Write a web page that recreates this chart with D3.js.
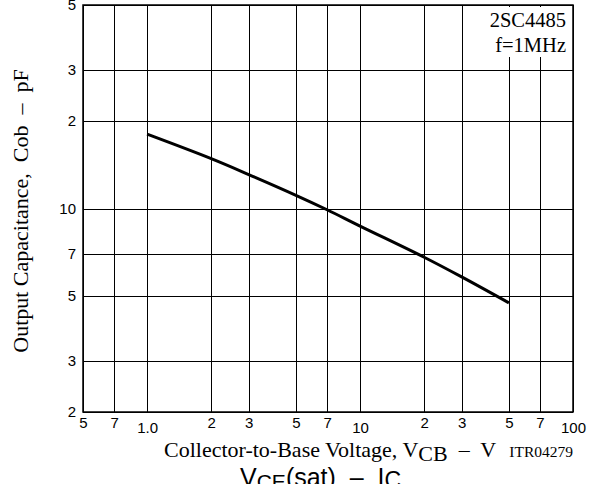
<!DOCTYPE html>
<html>
<head>
<meta charset="utf-8">
<script src="https://cdn.jsdelivr.net/npm/d3@7"></script>
<style>
  body { margin: 0; background: #fff; }
  svg { display: block; }
</style>
</head>
<body>
<svg id="chart"></svg>
<script>
// tick values and labels (log axes)
const xTicks = [0.5, 0.7, 1, 2, 3, 5, 7, 10, 20, 30, 50, 70, 100];
const xTickLabels = ["5", "7", "1.0", "2", "3", "5", "7", "10", "2", "3", "5", "7", "100"];
const yTicks = [2, 3, 5, 7, 10, 20, 30, 50];
const yTickLabels = ["2", "3", "5", "7", "10", "2", "3", "5"];

// curve: VCB (V) vs Cob (pF)
const vcb = [1, 2, 3, 5, 7, 10, 20, 30, 50];
const cob = [18.0, 14.83, 13.08, 11.1, 9.9, 8.7, 6.8, 5.82, 4.74];

const width = 589, height = 484;
const margin = {top: 5, right: 16, bottom: 72, left: 83};

const svg = d3.select("#chart")
    .attr("width", width)
    .attr("height", height)
    .attr("viewBox", [0, 0, width, height]);

const x = d3.scaleLog([0.5, 100], [margin.left, width - margin.right]);
const y = d3.scaleLog([2, 50], [height - margin.bottom, margin.top]);
const plotW = width - margin.right - margin.left;
const plotH = height - margin.bottom - margin.top;

// x axis + vertical grid
svg.append("g")
    .attr("transform", `translate(0,${height - margin.bottom})`)
    .call(d3.axisBottom(x)
        .tickValues(xTicks)
        .tickSize(-plotH)
        .tickPadding(5)
        .tickFormat((d, i) => xTickLabels[i]))
    .call(g => g.select(".domain").remove())
    .call(g => g.selectAll(".tick line")
        .attr("stroke", "#000")
        .attr("shape-rendering", "crispEdges"))
    .call(g => g.selectAll(".tick text")
        .attr("y", (d, i) => [1, 10, 100].includes(d) ? 10 : 5)
        .attr("fill", "#000")
        .attr("font-family", "'Liberation Sans', Arial, sans-serif")
        .attr("font-size", 15));

// y axis + horizontal grid
svg.append("g")
    .attr("transform", `translate(${margin.left},0)`)
    .call(d3.axisLeft(y)
        .tickValues(yTicks)
        .tickSize(-plotW)
        .tickPadding(7)
        .tickFormat((d, i) => yTickLabels[i]))
    .call(g => g.select(".domain").remove())
    .call(g => g.selectAll(".tick line")
        .attr("stroke", "#000")
        .attr("shape-rendering", "crispEdges"))
    .call(g => g.selectAll(".tick text")
        .attr("fill", "#000")
        .attr("font-family", "'Liberation Sans', Arial, sans-serif")
        .attr("font-size", 15));

// frame
svg.append("rect")
    .attr("x", margin.left)
    .attr("y", margin.top)
    .attr("width", plotW)
    .attr("height", plotH)
    .attr("fill", "none")
    .attr("stroke", "#000")
    .attr("stroke-width", 1.5);

// label box top-right
const serif = "'Liberation Serif', 'Times New Roman', serif";
svg.append("rect")
    .attr("x", 482)
    .attr("y", 7)
    .attr("width", 90)
    .attr("height", 50)
    .attr("fill", "#fff");
svg.append("text")
    .attr("x", 566).attr("y", 27)
    .attr("text-anchor", "end")
    .attr("font-family", serif)
    .attr("font-size", 20.5)
    .text("2SC4485");
svg.append("text")
    .attr("x", 566).attr("y", 52)
    .attr("text-anchor", "end")
    .attr("font-family", serif)
    .attr("font-size", 20.5)
    .text("f=1MHz");

// curve
const line = d3.line()
    .x((d, i) => x(vcb[i]))
    .y(d => y(d))
    .curve(d3.curveCatmullRom);

svg.append("path")
    .datum(cob)
    .attr("fill", "none")
    .attr("stroke", "#000")
    .attr("stroke-width", 3)
    .attr("d", line);

// y title
svg.append("text")
    .attr("transform", "translate(28,211) rotate(-90)")
    .attr("text-anchor", "middle")
    .attr("font-family", serif)
    .attr("font-size", 22)
    .attr("xml:space", "preserve")
    .text("Output Capacitance,  Cob  –  pF");

// x title
const xt = svg.append("text")
    .attr("x", 164).attr("y", 457)
    .attr("font-family", serif)
    .attr("font-size", 22)
    .attr("xml:space", "preserve");
xt.append("tspan").text("Collector-to-Base Voltage, V");
xt.append("tspan").attr("dy", 4).text("CB");
xt.append("tspan").attr("dy", -4).text("  –  V");

svg.append("text")
    .attr("x", 573).attr("y", 457)
    .attr("text-anchor", "end")
    .attr("font-family", serif)
    .attr("font-size", 15.5)
    .text("ITR04279");

// next chart title, cut off at the bottom
const nt = svg.append("text")
    .attr("x", 240).attr("y", 486)
    .attr("font-family", "'Liberation Sans', Arial, sans-serif")
    .attr("font-size", 25)
    .attr("xml:space", "preserve");
nt.append("tspan").text("V");
nt.append("tspan").attr("font-size", 21).attr("dy", 3).text("CE");
nt.append("tspan").attr("dy", -3).text("(sat)  –  I");
nt.append("tspan").attr("font-size", 23).attr("dy", 2).text("C");
</script>
</body>
</html>
